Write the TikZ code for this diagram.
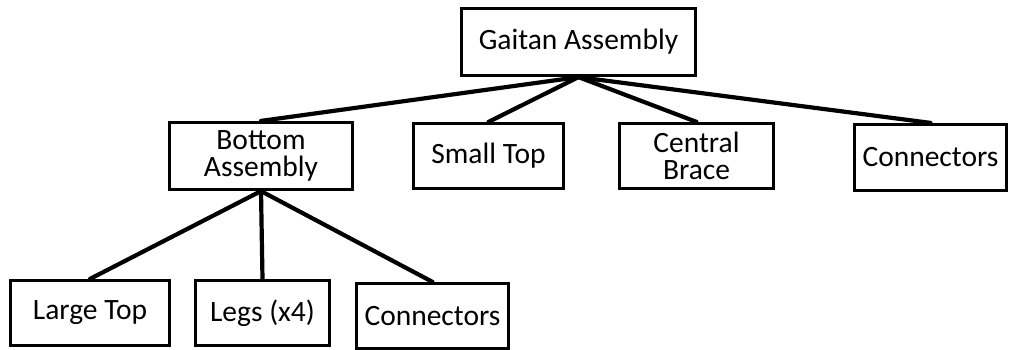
\documentclass[tikz,border=0pt]{standalone}
\usepackage{fontspec}
\setmainfont{Carlito}
\begin{document}
\begin{tikzpicture}[x=1pt,y=-1pt,
  part/.style={draw=black, line width=3.2pt, fill=white, inner sep=0pt,
    align=center, font=\fontsize{29.5}{27.5}\selectfont},
  link/.style={line width=4.2pt, line cap=round}]
  \useasboundingbox (0,0) rectangle (1013,350);

  % top level
  \node[part, minimum width=234pt, minimum height=67pt] (gaitan) at (578.5,42) {Gaitan Assembly};

  % second level
  \node[part, minimum width=183pt, minimum height=67pt] (bottom) at (261,156) {Bottom\\Assembly};
  \node[part, minimum width=150pt, minimum height=65pt] (smalltop) at (488.5,156) {Small Top};
  \node[part, minimum width=154pt, minimum height=65pt] (brace) at (696.5,156) {Central\\Brace};
  \node[part, minimum width=152pt, minimum height=66pt] (conntop) at (930.5,157.5) {Connectors};

  % third level
  \node[part, minimum width=159pt, minimum height=65pt] (largetop) at (90,313) {Large Top};
  \node[part, minimum width=134pt, minimum height=65pt] (legs) at (262.5,313) {Legs (x4)};
  \node[part, minimum width=152pt, minimum height=65pt] (connbot) at (432.5,316) {Connectors};

  % hierarchy links, drawn behind the boxes' borders
  \begin{scope}[on background layer/.try]
  \foreach \child in {bottom, smalltop, brace, conntop}
    \draw[link] (gaitan.south) -- (\child.north);
  \foreach \child in {largetop, legs, connbot}
    \draw[link] (bottom.south) -- (\child.north);
  \end{scope}
\end{tikzpicture}
\end{document}
